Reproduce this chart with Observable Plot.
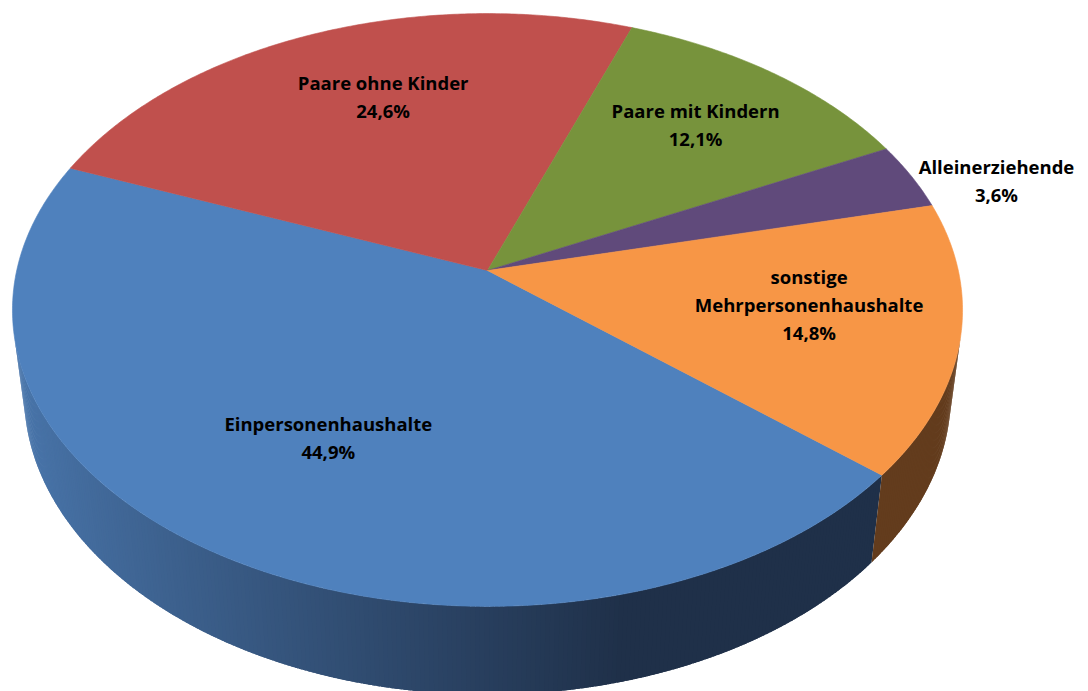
<!DOCTYPE html>
<html>
<head>
<meta charset="utf-8">
<script src="https://cdn.jsdelivr.net/npm/d3@7"></script>
<script src="https://cdn.jsdelivr.net/npm/@observablehq/plot@0.6"></script>
<style>
  html, body { margin: 0; padding: 0; background: #ffffff; }
  #chart svg { display: block; }
</style>
</head>
<body>
<div id="chart"></div>
<script>
// ---- data ----
const categories = ["Einpersonenhaushalte", "Paare ohne Kinder", "Paare mit Kindern", "Alleinerziehende", "sonstige Mehrpersonenhaushalte"];
const values = [44.9, 24.6, 12.1, 3.6, 14.8];
const labelLines = ["Einpersonenhaushalte", "Paare ohne Kinder", "Paare mit Kindern", "Alleinerziehende", "sonstige\nMehrpersonenhaushalte"];

// ---- styles ----
const topColors = ["#4f81bd", "#c0504d", "#77933c", "#604a7b", "#f79646"];
const sideLight = ["#4a77ad", "#8e3a38", "#58702c", "#47375c", "#6a4120"];
const sideDark  = ["#1f3049", "#5e2624", "#3a4a1d", "#2f243d", "#633c1d"];

// ---- 3D perspective pie geometry ----
const startAngle = 40;          // degrees, clockwise from 3 o'clock (screen)
const tilt = 38.2 * Math.PI / 180;
const sinP = Math.sin(tilt), cosP = Math.cos(tilt);
const camDist = 5.9;            // in pie radii
const e = cosP / camDist, k = sinP / camDist;
const thickness = 0.235;        // in pie radii
const silhouette = Math.asin(1 / (camDist * cosP)) * 180 / Math.PI;

function proj(r, deg, h) {
  const a = deg * Math.PI / 180;
  const u = r * Math.cos(a), v = r * Math.sin(a);
  const den = 1 - e * v - h * k;
  return {x: u / den, y: (v * sinP - h * cosP) / den};
}

const total = d3.sum(values);
let acc = startAngle;
const slices = categories.map((c, i) => {
  const a0 = acc, a1 = acc + values[i] / total * 360;
  acc = a1;
  return {i, key: c, a0, a1, mid: (a0 + a1) / 2, value: values[i]};
});

// top faces
const topPts = [];
for (const s of slices) {
  topPts.push({key: s.key, color: topColors[s.i], ...proj(0, 0, 0)});
  const n = Math.max(2, Math.ceil((s.a1 - s.a0) / 0.5));
  for (let j = 0; j <= n; j++) {
    const a = s.a0 + (s.a1 - s.a0) * j / n;
    topPts.push({key: s.key, color: topColors[s.i], ...proj(1, a, 0)});
  }
  topPts.push({key: s.key, color: topColors[s.i], ...proj(0, 0, 0)});
}

// visible side wall, split into thin overlapping strips for smooth shading
const sidePts = [];
let sid = 0;
const vis0 = silhouette, vis1 = 180 - silhouette;
for (const s of slices) {
  for (const off of [-360, 0, 360]) {
    const lo = Math.max(s.a0 + off, vis0), hi = Math.min(s.a1 + off, vis1);
    if (hi <= lo) continue;
    const step = 0.5;
    const n = Math.max(1, Math.ceil((hi - lo) / step));
    for (let j = 0; j < n; j++) {
      const b0 = lo + (hi - lo) * j / n;
      const b1 = Math.min(hi, lo + (hi - lo) * (j + 1) / n + 0.4);
      const c = Math.cos(((b0 + b1) / 2) * Math.PI / 180);
      const t = Math.max(0, Math.min(1, (c + 1) / 1.25));
      const col = d3.interpolateRgb(sideLight[s.i], sideDark[s.i])(t);
      const id = sid++;
      for (let m = 0; m <= 2; m++) sidePts.push({id, color: col, ...proj(1, b0 + (b1 - b0) * m / 2, 0)});
      for (let m = 2; m >= 0; m--) sidePts.push({id, color: col, ...proj(1, b0 + (b1 - b0) * m / 2, -thickness)});
      sidePts.push({id, color: col, ...proj(1, b0, 0)});
    }
  }
}

// labels
const fmt = v => v.toFixed(1).replace(".", ",") + "%";
const insideLabels = [], outsideLabels = [];
for (const s of slices) {
  const frac = s.value / total;
  if (frac < 0.05) {
    outsideLabels.push({text: labelLines[s.i] + "\n" + fmt(s.value), ...proj(1, s.mid, 0)});
  } else {
    insideLabels.push({text: labelLines[s.i] + "\n" + fmt(s.value), ...proj(0.66, s.mid, 0)});
  }
}

const font = "'Open Sans', Lato, sans-serif";
const chart = Plot.plot({
  width: 1088,
  height: 691,
  margin: 0,
  x: {domain: [-1, 1], range: [16.2, 957.8], axis: null},
  y: {domain: [-1, 1], range: [-200.8, 740.8], axis: null},
  color: {type: "identity"},
  style: {background: "#ffffff", fontFamily: font},
  marks: [
    Plot.line(sidePts, {x: "x", y: "y", z: "id", fill: "color", stroke: "none", curve: "linear"}),
    Plot.line(topPts, {x: "x", y: "y", z: "key", fill: "color", stroke: "color", strokeWidth: 0.6, curve: "linear"}),
    Plot.text(insideLabels, {x: "x", y: "y", text: "text", fill: "#000000", fontWeight: "bold", fontSize: 18.5, lineHeight: 1.52, textAnchor: "middle", dx: 13, dy: -13, fontFamily: font}),
    Plot.text(outsideLabels, {x: "x", y: "y", text: "text", fill: "#000000", fontWeight: "bold", fontSize: 18.5, lineHeight: 1.52, textAnchor: "middle", dx: 85, dy: 3, fontFamily: font})
  ]
});
document.getElementById("chart").appendChild(chart);
</script>
</body>
</html>
